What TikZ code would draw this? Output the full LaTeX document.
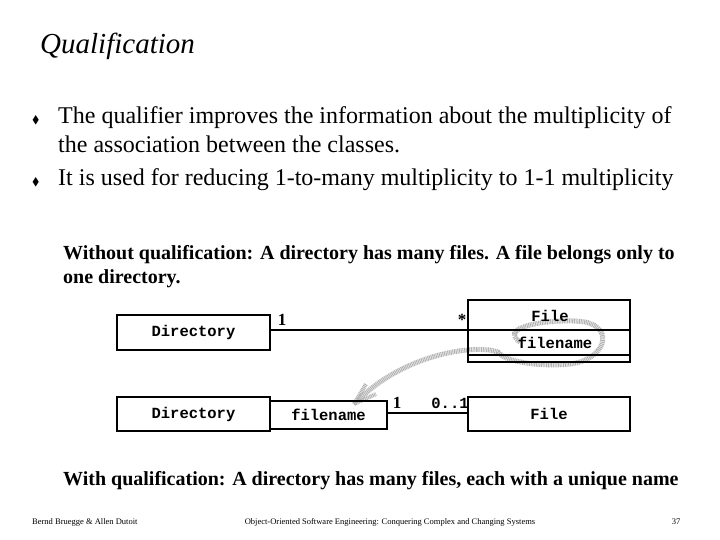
\documentclass[tikz,border=0pt]{standalone}
\usepackage{fontspec}
\setmainfont{Liberation Serif}
\setmonofont{Liberation Mono}
\usepackage{amssymb}
\begin{document}
\begin{tikzpicture}[x=1pt,y=-1pt,
  box/.style={draw,line width=1.2pt,inner sep=0pt},
  mono/.style={font=\fontsize{15.5}{17}\selectfont\ttfamily\bfseries},
  txt/.style={anchor=west,inner sep=0pt,font=\fontsize{24}{27}\selectfont},
  lab/.style={inner sep=0pt,font=\fontsize{17}{19}\selectfont\bfseries},
  bold/.style={anchor=west,inner sep=0pt,font=\fontsize{20}{23}\selectfont\bfseries},
  foot/.style={inner sep=0pt,font=\fontsize{8.5}{10}\selectfont},
  line/.style={line width=1.2pt},
  marker/.style={gray!60,line width=5pt,dash pattern=on 1pt off 0.7pt}]
\useasboundingbox (0,0) rectangle (720,540);
\node[anchor=west,inner sep=0pt,font=\fontsize{29}{32}\selectfont\itshape] (title) at (40,46) {Qualification};
\node[anchor=west,inner sep=0pt,font=\fontsize{11}{12}\selectfont] (b1) at (32,120) {$\blacklozenge$};
\node[txt] (t1) at (58,118) {The qualifier improves the information about the multiplicity of};
\node[txt] (t1b) at (58,144) {the association between the classes.};
\node[anchor=west,inner sep=0pt,font=\fontsize{11}{12}\selectfont] (b2) at (32,182) {$\blacklozenge$};
\node[txt] (t2) at (58,180) {It is used for reducing 1-to-many multiplicity to 1-1 multiplicity};
\node[bold] (w1) at (63,255) {Without qualification: A directory has many files. A file belongs only to};
\node[bold] (w2) at (63,279) {one directory.};
\node[bold] (w3) at (63,481) {With qualification: A directory has many files, each with a unique name};
% gray marker (behind the texts)
\draw[marker] (520,342) .. controls (495,325) and (560,318) .. (585,322) .. controls (615,328) and (605,360) .. (570,364) .. controls (540,367) and (505,362) .. (498,352) .. controls (480,345) and (410,350) .. (358,400);
\draw[marker,line width=4pt] (354,404) -- (366,384) (354,404) -- (376,394);
% top
\node[box,mono,minimum width=153pt,minimum height=35pt] (d1) at (193.5,332.5) {Directory};
\draw[box] (468,300) rectangle (630,362);
\draw[line] (468,330) -- (630,330);
\draw[line] (468,355) -- (630,355);
\node[mono,inner sep=0pt] (f1) at (550,316) {File};
\node[mono,inner sep=0pt] (fn1) at (555,343) {filename};
\coordinate (fl) at (468,330);
\draw[line] (270,330) -- (fl);
\node[lab] at (282,320) {1};
\node[lab] at (462,320) {*};
% bottom
\node[box,mono,minimum width=153pt,minimum height=34pt] (d2) at (193.5,414) {Directory};
\node[box,mono,minimum width=117pt,minimum height=28pt] (q) at (328.5,415) {filename};
\node[box,mono,minimum width=162pt,minimum height=34pt] (f2) at (549,414) {File};
\draw[line] (387,413) -- (468,413);
\node[lab] at (397,403) {1};
\node[mono,inner sep=0pt] at (450,403) {0..1};
\node[foot,anchor=west] (ft1) at (32,522) {Bernd Bruegge \& Allen Dutoit};
\node[foot] (ft2) at (390,522) {Object-Oriented Software Engineering: Conquering Complex and Changing Systems};
\node[foot] (ft3) at (676,522) {37};
\end{tikzpicture}
\end{document}
